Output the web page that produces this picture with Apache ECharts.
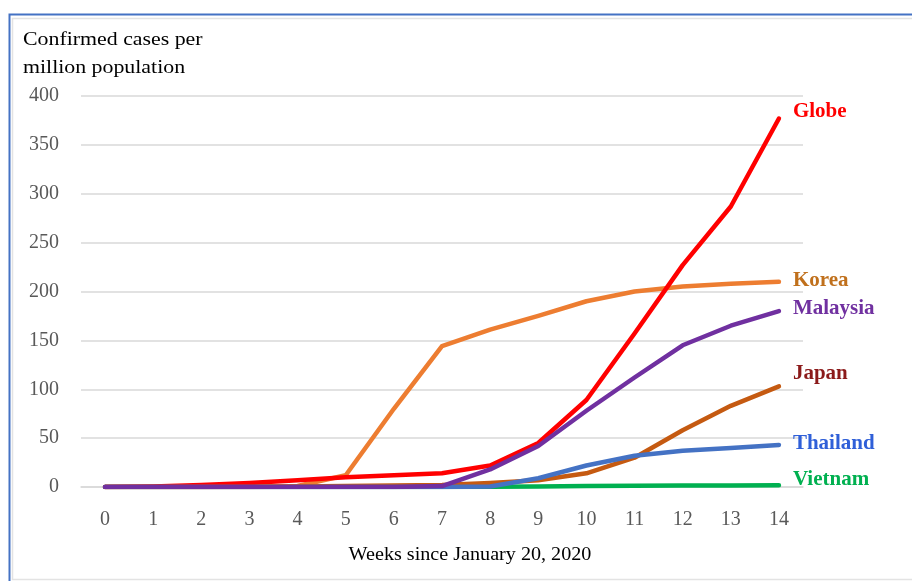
<!DOCTYPE html>
<html>
<head>
<meta charset="utf-8">
<script src="https://cdn.jsdelivr.net/npm/echarts@6/dist/echarts.min.js"></script>
<style>
html,body{margin:0;padding:0;background:#fff;}
#chart{width:912px;height:581px;}
</style>
</head>
<body>
<div id="chart"></div>
<script>
const weeks = ['0','1','2','3','4','5','6','7','8','9','10','11','12','13','14'];
const globe    = [0, 0.5, 2, 4, 7, 10, 12, 14, 22, 45, 89, 157, 227, 287, 377];
const korea    = [0, 0, 0, 0.5, 1, 12, 80, 144, 161, 175, 190, 200, 205, 208, 210];
const malaysia = [0, 0, 0, 0, 0, 0, 0, 1, 18, 42, 78, 112, 145, 165, 180];
const japan    = [0, 0, 0, 0, 0.5, 1, 1.5, 2, 4, 7, 14, 30, 58, 83, 103];
const thailand = [0, 0, 0, 0, 0, 0, 0, 0, 0.5, 9, 22, 32, 37, 40, 43];
const vietnam  = [0, 0, 0, 0, 0, 0, 0, 0, 0.3, 0.5, 1, 1.2, 1.5, 1.6, 1.8];
const yTicks = [0, 50, 100, 150, 200, 250, 300, 350, 400];

const serif = '"Liberation Serif","Times New Roman",serif';

function series(name, data, color, labelColor, dy, z) {
  return {
    name: name, type: 'line', data: data, symbol: 'none', smooth: false, z: z,
    lineStyle: {color: color, width: 4.5, cap: 'round', join: 'round'},
    endLabel: {
      show: true, formatter: name, color: labelColor, fontFamily: serif,
      fontWeight: 'bold', fontSize: 21, distance: 14, offset: [0, dy]
    },
    emphasis: {disabled: true}
  };
}

const chart = echarts.init(document.getElementById('chart'), null, {renderer: 'canvas'});
chart.setOption({
  animation: false,
  backgroundColor: '#fff',
  grid: {left: 81, right: 109, top: 96, bottom: 94},
  xAxis: {
    type: 'category', data: weeks, boundaryGap: true,
    axisLine: {show: true, lineStyle: {color: '#d9d9d9', width: 1.5}},
    axisTick: {show: false},
    axisLabel: {color: '#595959', fontFamily: serif, fontSize: 20, margin: 23}
  },
  yAxis: {
    type: 'value', min: 0, max: 400, interval: 50,
    axisLine: {show: false}, axisTick: {show: false},
    splitLine: {lineStyle: {color: '#d9d9d9', width: 1.5}},
    axisLabel: {color: '#595959', fontFamily: serif, fontSize: 20, margin: 22, padding: [4, 0, 0, 0],
      formatter: function (v) { return yTicks.indexOf(v) >= 0 ? String(v) : ''; }}
  },
  graphic: [
    {type: 'rect', shape: {x: 9.5, y: 14.5, width: 1000, height: 1000}, style: {fill: 'none', stroke: '#4472c4', lineWidth: 2}, silent: true},
    {type: 'rect', shape: {x: 12.5, y: 18.5, width: 1000, height: 561}, style: {fill: 'none', stroke: '#e3e3e3', lineWidth: 1.5}, silent: true},
    {type: 'text', x: 23, y: 26, scaleX: 1.15, style: {text: 'Confirmed cases per\nmillion population', fill: '#000', font: '19px ' + serif, lineHeight: 28}},
    {type: 'text', x: 470, y: 555, scaleX: 1.06, style: {text: 'Weeks since January 20, 2020', fill: '#000', font: '19px ' + serif, align: 'center', verticalAlign: 'middle'}}
  ],
  series: [
    series('Vietnam', vietnam, '#00b050', '#00b050', -6, 1),
    series('Korea', korea, '#ed7d31', '#c0701c', -1, 2),
    series('Globe', globe, '#ff0000', '#ff0000', -7, 3),
    series('Japan', japan, '#c55a11', '#8b1a1a', -13, 4),
    series('Thailand', thailand, '#4472c4', '#2f5fd8', -1, 5),
    series('Malaysia', malaysia, '#7030a0', '#7030a0', -2, 6)
  ]
});
</script>
</body>
</html>
